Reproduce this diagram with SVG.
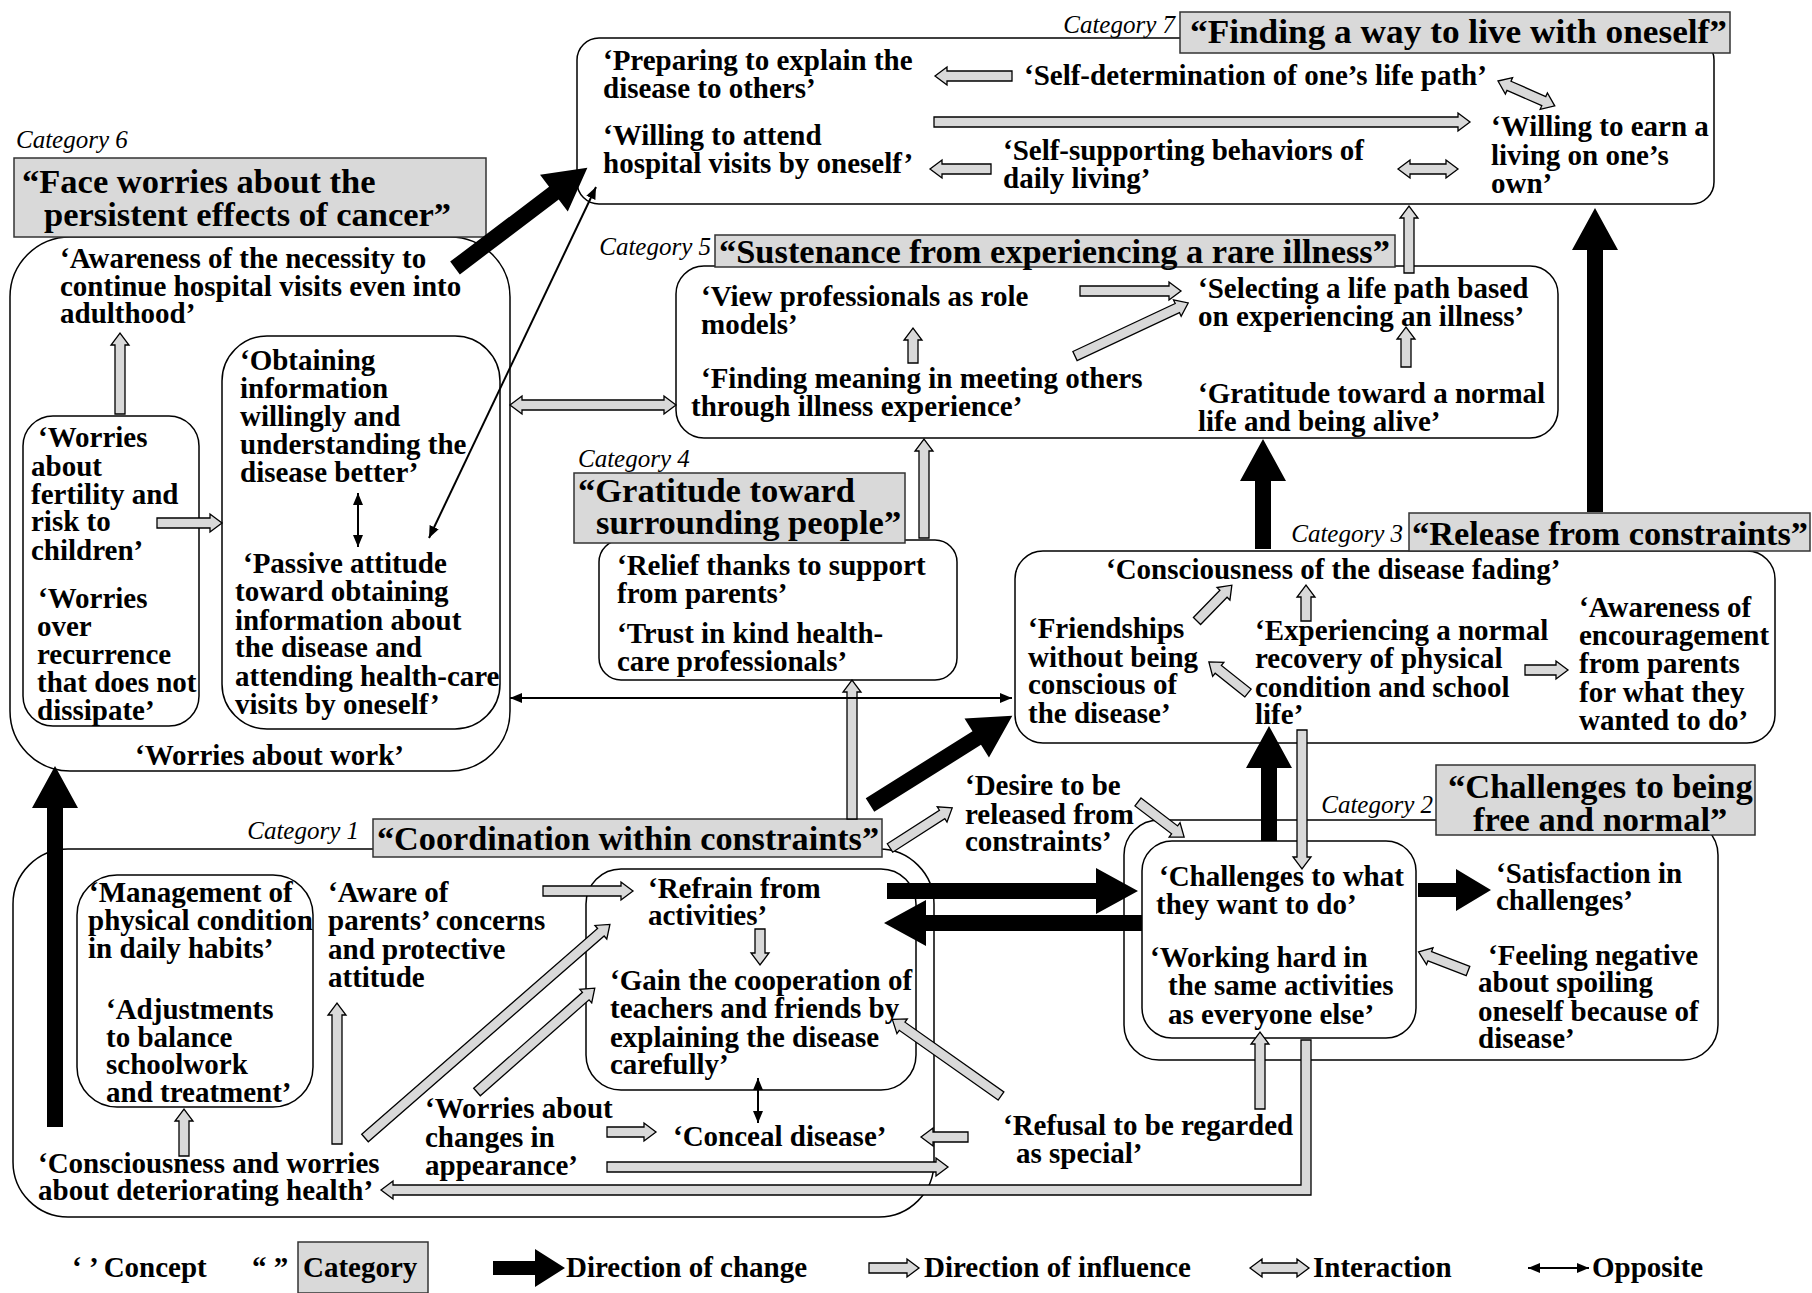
<svg xmlns="http://www.w3.org/2000/svg" width="1812" height="1293" viewBox="0 0 1812 1293">
<style>
text{font-family:'Liberation Serif','Times New Roman',serif;fill:#000}
.c{font-weight:bold;font-size:29px}
.h{font-weight:bold;font-size:34.5px}
.cat{font-style:italic;font-size:25px}
.box{fill:#fff;stroke:#000;stroke-width:1.5}
.hdr{fill:#d9d9d9;stroke:#333;stroke-width:1.5}
.ga{fill:#d9d9d9;stroke:#000;stroke-width:1.3}
.ba{fill:#000}
.tl{stroke:#000;stroke-width:2;fill:none;marker-start:url(#tip);marker-end:url(#tip)}
</style>
<defs>
<marker id="tip" viewBox="0 0 12 10" refX="12" refY="5" markerWidth="12" markerHeight="10" markerUnits="userSpaceOnUse" orient="auto-start-reverse"><path d="M0,0 L12,5 L0,10 z" fill="#000"/></marker>
</defs>
<rect width="1812" height="1293" fill="#fff"/>

<g id="cat7">
<rect class="box" x="577" y="38" width="1137" height="166" rx="22"/>
<rect class="hdr" x="1180" y="12" width="550" height="41"/>
<text class="cat" x="1175" y="33" text-anchor="end">Category 7</text>
<text class="h" x="1190" y="43" textLength="537" lengthAdjust="spacingAndGlyphs">“Finding a way to live with oneself”</text>
<text class="c" x="603" y="70">‘Preparing to explain the</text>
<text class="c" x="603" y="98">disease to others’</text>
<text class="c" x="1024" y="85">‘Self-determination of one’s life path’</text>
<text class="c" x="603" y="145">‘Willing to attend</text>
<text class="c" x="603" y="173">hospital visits by oneself’</text>
<text class="c" x="1003" y="160">‘Self-supporting behaviors of</text>
<text class="c" x="1003" y="188">daily living’</text>
<text class="c" x="1491" y="136">‘Willing to earn a</text>
<text class="c" x="1491" y="165">living on one’s</text>
<text class="c" x="1491" y="193">own’</text>
</g>

<g id="cat6">
<rect class="box" x="10" y="237" width="500" height="534" rx="60"/>
<rect class="hdr" x="14" y="158" width="472" height="79"/>
<text class="cat" x="16" y="148">Category 6</text>
<text class="h" x="22" y="193">“Face worries about the</text>
<text class="h" x="44" y="226">persistent effects of cancer”</text>
<text class="c" x="60" y="268">‘Awareness of the necessity to</text>
<text class="c" x="60" y="296">continue hospital visits even into</text>
<text class="c" x="60" y="323">adulthood’</text>
<rect class="box" x="23" y="416" width="176" height="310" rx="30"/>
<text class="c" x="38" y="447">‘Worries</text>
<text class="c" x="31" y="476">about</text>
<text class="c" x="31" y="504">fertility and</text>
<text class="c" x="31" y="531">risk to</text>
<text class="c" x="31" y="560">children’</text>
<text class="c" x="38" y="608">‘Worries</text>
<text class="c" x="37" y="636">over</text>
<text class="c" x="37" y="664">recurrence</text>
<text class="c" x="37" y="692">that does not</text>
<text class="c" x="37" y="720">dissipate’</text>
<rect class="box" x="222" y="336" width="278" height="393" rx="45"/>
<text class="c" x="240" y="370">‘Obtaining</text>
<text class="c" x="240" y="398">information</text>
<text class="c" x="240" y="426">willingly and</text>
<text class="c" x="240" y="454">understanding the</text>
<text class="c" x="240" y="482">disease better’</text>
<text class="c" x="243" y="573">‘Passive attitude</text>
<text class="c" x="235" y="601">toward obtaining</text>
<text class="c" x="235" y="630">information about</text>
<text class="c" x="235" y="657">the disease and</text>
<text class="c" x="235" y="686">attending health-care</text>
<text class="c" x="235" y="714">visits by oneself’</text>
<text class="c" x="135" y="765">‘Worries about work’</text>
</g>

<g id="cat5">
<rect class="box" x="676" y="266" width="882" height="172" rx="28"/>
<rect class="hdr" x="715" y="235" width="680" height="32"/>
<text class="cat" x="711" y="255" text-anchor="end">Category 5</text>
<text class="h" x="719" y="263" textLength="671" lengthAdjust="spacingAndGlyphs">“Sustenance from experiencing a rare illness”</text>
<text class="c" x="701" y="306">‘View professionals as role</text>
<text class="c" x="701" y="334">models’</text>
<text class="c" x="701" y="388">‘Finding meaning in meeting others</text>
<text class="c" x="691" y="416">through illness experience’</text>
<text class="c" x="1198" y="298">‘Selecting a life path based</text>
<text class="c" x="1198" y="326">on experiencing an illness’</text>
<text class="c" x="1198" y="403">‘Gratitude toward a normal</text>
<text class="c" x="1198" y="431">life and being alive’</text>
</g>

<g id="cat4">
<rect class="box" x="599" y="540" width="358" height="140" rx="22"/>
<rect class="hdr" x="574" y="473" width="331" height="70"/>
<text class="cat" x="578" y="467">Category 4</text>
<text class="h" x="578" y="502">“Gratitude toward</text>
<text class="h" x="596" y="534">surrounding people”</text>
<text class="c" x="617" y="575">‘Relief thanks to support</text>
<text class="c" x="617" y="603">from parents’</text>
<text class="c" x="617" y="643">‘Trust in kind health-</text>
<text class="c" x="617" y="671">care professionals’</text>
</g>

<g id="cat3">
<rect class="box" x="1015" y="551" width="760" height="192" rx="28"/>
<rect class="hdr" x="1409" y="513" width="401" height="38"/>
<text class="cat" x="1403" y="542" text-anchor="end">Category 3</text>
<text class="h" x="1412" y="545" textLength="396" lengthAdjust="spacingAndGlyphs">“Release from constraints”</text>
<text class="c" x="1106" y="579">‘Consciousness of the disease fading’</text>
<text class="c" x="1028" y="638">‘Friendships</text>
<text class="c" x="1028" y="667">without being</text>
<text class="c" x="1028" y="694">conscious of</text>
<text class="c" x="1028" y="723">the disease’</text>
<text class="c" x="1255" y="640">‘Experiencing a normal</text>
<text class="c" x="1255" y="668">recovery of physical</text>
<text class="c" x="1255" y="697">condition and school</text>
<text class="c" x="1255" y="724">life’</text>
<text class="c" x="1579" y="617">‘Awareness of</text>
<text class="c" x="1579" y="645">encouragement</text>
<text class="c" x="1579" y="673">from parents</text>
<text class="c" x="1579" y="702">for what they</text>
<text class="c" x="1579" y="730">wanted to do’</text>
</g>

<g id="cat2">
<rect class="box" x="1124" y="820" width="594" height="240" rx="35"/>
<rect class="hdr" x="1436" y="765" width="319" height="70"/>
<text class="cat" x="1433" y="813" text-anchor="end">Category 2</text>
<text class="h" x="1448" y="798">“Challenges to being</text>
<text class="h" x="1473" y="831">free and normal”</text>
<rect class="box" x="1142" y="841" width="274" height="197" rx="30"/>
<text class="c" x="1159" y="886">‘Challenges to what</text>
<text class="c" x="1156" y="914">they want to do’</text>
<text class="c" x="1150" y="967">‘Working hard in</text>
<text class="c" x="1168" y="995">the same activities</text>
<text class="c" x="1168" y="1024">as everyone else’</text>
<text class="c" x="1496" y="883">‘Satisfaction in</text>
<text class="c" x="1496" y="910">challenges’</text>
<text class="c" x="1488" y="965">‘Feeling negative</text>
<text class="c" x="1478" y="992">about spoiling</text>
<text class="c" x="1478" y="1021">oneself because of</text>
<text class="c" x="1478" y="1048">disease’</text>
</g>

<g id="cat1">
<rect class="box" x="13" y="849" width="921" height="368" rx="55"/>
<rect class="hdr" x="373" y="819" width="509" height="38"/>
<text class="cat" x="359" y="839" text-anchor="end">Category 1</text>
<text class="h" x="377" y="850" textLength="502" lengthAdjust="spacingAndGlyphs">“Coordination within constraints”</text>
<rect class="box" x="77" y="875" width="236" height="232" rx="40"/>
<text class="c" x="89" y="902">‘Management of</text>
<text class="c" x="88" y="930">physical condition</text>
<text class="c" x="88" y="958">in daily habits’</text>
<text class="c" x="106" y="1019">‘Adjustments</text>
<text class="c" x="106" y="1047">to balance</text>
<text class="c" x="106" y="1074">schoolwork</text>
<text class="c" x="106" y="1102">and treatment’</text>
<text class="c" x="328" y="902">‘Aware of</text>
<text class="c" x="328" y="930">parents’ concerns</text>
<text class="c" x="328" y="959">and protective</text>
<text class="c" x="328" y="987">attitude</text>
<text class="c" x="38" y="1173">‘Consciousness and worries</text>
<text class="c" x="38" y="1200">about deteriorating health’</text>
<rect class="box" x="586" y="869" width="330" height="221" rx="35"/>
<text class="c" x="648" y="898">‘Refrain from</text>
<text class="c" x="648" y="925">activities’</text>
<text class="c" x="610" y="990">‘Gain the cooperation of</text>
<text class="c" x="610" y="1018">teachers and friends by</text>
<text class="c" x="610" y="1047">explaining the disease</text>
<text class="c" x="610" y="1074">carefully’</text>
<text class="c" x="425" y="1118">‘Worries about</text>
<text class="c" x="425" y="1147">changes in</text>
<text class="c" x="425" y="1175">appearance’</text>
<text class="c" x="673" y="1146">‘Conceal disease’</text>
</g>

<g id="desire">
<text class="c" x="965" y="795">‘Desire to be</text>
<text class="c" x="965" y="824">released from</text>
<text class="c" x="965" y="851">constraints’</text>
</g>

<g id="refusal">
<text class="c" x="1003" y="1135">‘Refusal to be regarded</text>
<text class="c" x="1016" y="1163">as special’</text>
</g>

<g id="connectors">
<polygon class="ga" transform="translate(1012 76) rotate(180)" points="0,-5 65,-5 65,-9 77,0 65,9 65,5 0,5"/>
<polygon class="ga" transform="translate(934 122)" points="0,-5 524,-5 524,-9 536,0 524,9 524,5 0,5"/>
<polygon class="ga" transform="translate(991 169) rotate(180)" points="0,-5 49,-5 49,-9 61,0 49,9 49,5 0,5"/>
<polygon class="ga" transform="translate(120 414) rotate(-90)" points="0,-5 69,-5 69,-9 81,0 69,9 69,5 0,5"/>
<polygon class="ga" transform="translate(157 523)" points="0,-5 53,-5 53,-9 65,0 53,9 53,5 0,5"/>
<polygon class="ga" transform="translate(913 363) rotate(-90)" points="0,-5 23,-5 23,-9 35,0 23,9 23,5 0,5"/>
<polygon class="ga" transform="translate(1080 291)" points="0,-5 89,-5 89,-9 101,0 89,9 89,5 0,5"/>
<polygon class="ga" transform="translate(1075 356) rotate(-25.1)" points="0,-5 113,-5 113,-9 125,0 113,9 113,5 0,5"/>
<polygon class="ga" transform="translate(1406 367) rotate(-90)" points="0,-5 28,-5 28,-9 40,0 28,9 28,5 0,5"/>
<polygon class="ga" transform="translate(924 538) rotate(-90)" points="0,-5 87,-5 87,-9 99,0 87,9 87,5 0,5"/>
<polygon class="ga" transform="translate(1409 273) rotate(-90)" points="0,-5 55,-5 55,-9 67,0 55,9 55,5 0,5"/>
<polygon class="ga" transform="translate(852 819) rotate(-90)" points="0,-5 127,-5 127,-9 139,0 127,9 127,5 0,5"/>
<polygon class="ga" transform="translate(1197 621) rotate(-45.8)" points="0,-5 38,-5 38,-9 50,0 38,9 38,5 0,5"/>
<polygon class="ga" transform="translate(1306 621) rotate(-90)" points="0,-5 24,-5 24,-9 36,0 24,9 24,5 0,5"/>
<polygon class="ga" transform="translate(1248 693) rotate(-141.5)" points="0,-5 38,-5 38,-9 50,0 38,9 38,5 0,5"/>
<polygon class="ga" transform="translate(1525 670)" points="0,-5 31,-5 31,-9 43,0 31,9 31,5 0,5"/>
<polygon class="ga" transform="translate(1302 730) rotate(90)" points="0,-5 127,-5 127,-9 139,0 127,9 127,5 0,5"/>
<polygon class="ga" transform="translate(1468 971) rotate(-158.8)" points="0,-5 41,-5 41,-9 53,0 41,9 41,5 0,5"/>
<polygon class="ga" transform="translate(1260 1109) rotate(-90)" points="0,-5 65,-5 65,-9 77,0 65,9 65,5 0,5"/>
<polygon class="ga" points="1301,1040 1311,1040 1311,1195 393,1195 393,1199 381,1190 393,1181 393,1185 1301,1185"/>
<polygon class="ga" transform="translate(184 1156) rotate(-90)" points="0,-5 35,-5 35,-9 47,0 35,9 35,5 0,5"/>
<polygon class="ga" transform="translate(337 1144) rotate(-90)" points="0,-5 129,-5 129,-9 141,0 129,9 129,5 0,5"/>
<polygon class="ga" transform="translate(365 1138) rotate(-41.1)" points="0,-5 313,-5 313,-9 325,0 313,9 313,5 0,5"/>
<polygon class="ga" transform="translate(477 1092) rotate(-41.4)" points="0,-5 145,-5 145,-9 157,0 145,9 145,5 0,5"/>
<polygon class="ga" transform="translate(543 891)" points="0,-5 78,-5 78,-9 90,0 78,9 78,5 0,5"/>
<polygon class="ga" transform="translate(760 929) rotate(90)" points="0,-5 24,-5 24,-9 36,0 24,9 24,5 0,5"/>
<polygon class="ga" transform="translate(607 1132)" points="0,-5 37,-5 37,-9 49,0 37,9 37,5 0,5"/>
<polygon class="ga" transform="translate(968 1137) rotate(180)" points="0,-5 35,-5 35,-9 47,0 35,9 35,5 0,5"/>
<polygon class="ga" transform="translate(607 1167)" points="0,-5 329,-5 329,-9 341,0 329,9 329,5 0,5"/>
<polygon class="ga" transform="translate(1001 1096) rotate(-144.8)" points="0,-5 121,-5 121,-9 133,0 121,9 121,5 0,5"/>
<polygon class="ga" transform="translate(890 848) rotate(-32.8)" points="0,-5 62,-5 62,-9 74,0 62,9 62,5 0,5"/>
<polygon class="ga" transform="translate(1138 802) rotate(37.3)" points="0,-5 46,-5 46,-9 58,0 46,9 46,5 0,5"/>
<polygon class="ga" transform="translate(1498 81) rotate(23.7)" points="0,0 12,-9 12,-5 50,-5 50,-9 62,0 50,9 50,5 12,5 12,9"/>
<polygon class="ga" transform="translate(1398 169)" points="0,0 12,-9 12,-5 48,-5 48,-9 60,0 48,9 48,5 12,5 12,9"/>
<polygon class="ga" transform="translate(510 405)" points="0,0 12,-9 12,-5 154,-5 154,-9 166,0 154,9 154,5 12,5 12,9"/>
<polygon class="ba" transform="translate(455 268) rotate(-37.1)" points="0,-8 124,-8 124,-23 166,0 124,23 124,8 0,8"/>
<polygon class="ba" transform="translate(55 1127) rotate(-90)" points="0,-8 319,-8 319,-23 361,0 319,23 319,8 0,8"/>
<polygon class="ba" transform="translate(1263 549) rotate(-90)" points="0,-8 68,-8 68,-23 110,0 68,23 68,8 0,8"/>
<polygon class="ba" transform="translate(1595 512) rotate(-90)" points="0,-8 262,-8 262,-23 304,0 262,23 262,8 0,8"/>
<polygon class="ba" transform="translate(1269 841) rotate(-90)" points="0,-8 73,-8 73,-23 115,0 73,23 73,8 0,8"/>
<polygon class="ba" transform="translate(887 891)" points="0,-8 209,-8 209,-23 251,0 209,23 209,8 0,8"/>
<polygon class="ba" transform="translate(1142 923) rotate(180)" points="0,-8 216,-8 216,-23 258,0 216,23 216,8 0,8"/>
<polygon class="ba" transform="translate(870 805) rotate(-32.1)" points="0,-8 126,-8 126,-23 168,0 126,23 126,8 0,8"/>
<polygon class="ba" transform="translate(1418 890)" points="0,-7 38,-7 38,-21 73,0 38,21 38,7 0,7"/>
<line class="tl" x1="358" y1="493" x2="358" y2="547"/>
<line class="tl" x1="429" y1="538" x2="596" y2="187"/>
<line class="tl" x1="510" y1="698" x2="1012" y2="698"/>
<line class="tl" x1="758" y1="1078" x2="758" y2="1123"/>
</g>

<g id="legend">
<text class="c" x="72" y="1277">‘ ’ Concept</text>
<text class="c" x="252" y="1277">“ ”</text>
<rect class="hdr" x="298" y="1242" width="130" height="51"/>
<text class="c" x="303" y="1277">Category</text>
<polygon class="ba" transform="translate(493 1268)" points="0,-7 42,-7 42,-19 72,0 42,19 42,7 0,7"/>
<text class="c" x="566" y="1277">Direction of change</text>
<polygon class="ga" transform="translate(869 1268)" points="0,-5 38,-5 38,-9 50,0 38,9 38,5 0,5"/>
<text class="c" x="924" y="1277">Direction of influence</text>
<polygon class="ga" transform="translate(1250 1268)" points="0,0 12,-9 12,-5 47,-5 47,-9 59,0 47,9 47,5 12,5 12,9"/>
<text class="c" x="1313" y="1277">Interaction</text>
<line class="tl" x1="1528" y1="1268" x2="1589" y2="1268"/>
<text class="c" x="1592" y="1277">Opposite</text>
</g>
</svg>
